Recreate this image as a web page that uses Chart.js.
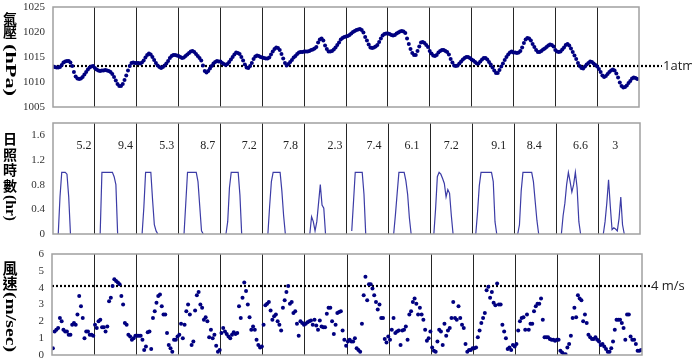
<!DOCTYPE html>
<html lang="zh-Hant">
<head>
<meta charset="UTF-8">
<title>氣壓、日照時數、風速</title>
<script src="https://cdn.jsdelivr.net/npm/chart.js"></script>
<style>
  html, body { margin: 0; padding: 0; background: #fff; }
  #wrap { position: relative; width: 692px; height: 360px; overflow: hidden; }
  .panel { position: absolute; left: 0; width: 692px; }
  #p1 { top: 0; height: 115px; }
  #p2 { top: 115px; height: 125px; }
  #p3 { top: 240px; height: 120px; }
</style>
</head>
<body>
<div id="wrap">
  <div class="panel" id="p1"><canvas id="pressureChart"></canvas></div>
  <div class="panel" id="p2"><canvas id="sunChart"></canvas></div>
  <div class="panel" id="p3"><canvas id="windChart"></canvas></div>
</div>
<script>
// hourly readings, 14 days x 24 h (one row per day)
const pressure = [
  1013.1,1013.0,1012.9,1012.9,1013.0,1013.4,1013.9,1014.1,1014.2,1014.2,1013.9,1013.2,1012.0,1011.1,1010.7,1010.6,1010.7,1011.0,1011.5,1012.0,1012.5,1012.9,1013.1,1013.2,
  1012.8,1012.5,1012.3,1012.2,1012.3,1012.3,1012.4,1012.3,1012.2,1012.0,1011.6,1011.0,1010.3,1009.6,1009.2,1009.2,1009.6,1010.4,1011.3,1012.3,1013.2,1013.8,1013.9,1013.8,
  1013.8,1013.8,1013.7,1013.9,1014.3,1014.9,1015.4,1015.7,1015.5,1015.0,1014.4,1013.8,1013.3,1013.0,1012.8,1013.0,1013.3,1013.7,1014.2,1014.8,1015.2,1015.4,1015.4,1015.3,
  1015.2,1015.0,1014.8,1014.9,1015.2,1015.5,1015.8,1016.1,1016.2,1016.0,1015.6,1015.2,1014.8,1014.3,1013.3,1012.2,1011.9,1012.2,1012.7,1013.2,1013.7,1014.0,1014.2,1014.1,
  1014.1,1013.8,1013.6,1013.4,1013.6,1014.0,1014.5,1015.0,1015.5,1015.9,1015.8,1015.6,1015.0,1014.3,1013.5,1012.9,1012.8,1013.2,1013.8,1014.6,1015.1,1015.3,1015.2,1015.0,
  1014.9,1014.8,1014.7,1014.7,1014.9,1015.5,1016.1,1016.6,1016.9,1016.8,1016.4,1015.6,1014.7,1013.8,1013.3,1013.6,1014.0,1014.4,1014.9,1015.2,1015.6,1015.9,1016.0,1016.0,
  1016.1,1016.1,1016.1,1016.2,1016.4,1016.5,1016.7,1017.0,1017.9,1018.5,1018.7,1018.3,1017.3,1016.6,1016.1,1016.1,1016.2,1016.5,1016.9,1017.4,1017.9,1018.5,1018.8,1019.0,
  1019.1,1019.2,1019.4,1019.7,1020.0,1020.2,1020.4,1020.5,1020.6,1020.4,1019.9,1019.0,1018.3,1017.5,1016.9,1016.8,1016.9,1017.1,1017.4,1018.0,1018.7,1019.3,1019.6,1019.7,
  1019.7,1019.6,1019.4,1019.3,1019.4,1019.7,1019.9,1020.1,1020.2,1020.1,1019.8,1018.7,1017.6,1016.6,1015.8,1015.4,1015.4,1016.2,1017.1,1017.9,1018.0,1017.8,1017.4,1017.0,
  1016.2,1015.7,1015.3,1015.2,1015.4,1015.9,1016.2,1016.4,1016.4,1016.2,1016.0,1015.5,1014.6,1013.9,1013.3,1013.2,1013.3,1013.7,1014.1,1014.5,1014.8,1015.0,1015.0,1014.8,
  1014.5,1014.3,1014.0,1013.7,1013.7,1014.1,1014.5,1014.8,1014.8,1014.5,1014.0,1013.5,1012.9,1012.3,1011.8,1011.8,1012.4,1013.1,1013.7,1014.4,1015.0,1015.5,1015.9,1016.1,
  1015.9,1015.9,1015.8,1015.9,1016.2,1016.9,1017.8,1018.5,1018.8,1018.7,1018.3,1017.6,1017.0,1016.4,1016.0,1016.0,1016.2,1016.5,1016.7,1017.0,1017.3,1017.5,1017.4,1017.1,
  1016.4,1016.1,1016.0,1016.1,1016.5,1016.9,1017.4,1017.6,1017.3,1016.7,1016.0,1015.3,1014.6,1013.8,1013.2,1012.8,1012.7,1013.1,1013.5,1013.8,1014.1,1014.0,1013.7,1013.4,
  1013.1,1012.6,1012.0,1011.3,1011.0,1011.2,1011.6,1012.0,1012.3,1012.5,1012.3,1011.7,1010.9,1009.9,1009.2,1008.9,1009.0,1009.3,1009.8,1010.2,1010.7,1010.9,1010.8,1010.6
];

// sunshine: first daylight hour of each day, then the hourly values from there
const sunStart = [3, 3, 3, 3, 3, 3, 3, 3, 3, 2, 2, 2, 3, 3];
const sunHours = [
  [0, 0.6, 1, 1, 1, 0.97, 0.6, 0],
  [0, 1, 1, 1, 1, 1, 1, 1, 0.93, 0.8, 0],
  [0, 0.43, 1, 1, 1, 1, 0.55, 0.15, 0.05, 0],
  [0, 0.5, 1, 1, 1, 1, 1, 1, 0.85, 0.45, 0.05, 0],
  [0, 0.2, 0.75, 1, 1, 1, 1, 1, 0.63, 0],
  [0, 0.45, 0.85, 1, 1, 1, 1, 1, 0.7, 0.3, 0],
  [0, 0.28, 0.2, 0.05, 0.2, 0.5, 0.8, 0.47, 0.42, 0],
  [0.05, 0.52, 1, 1, 1, 1, 1, 0.65, 0],
  [0, 0.31, 0.66, 1, 1, 1, 1, 0.86, 0.64, 0.26, 0],
  [0, 0.41, 0.93, 1, 0.97, 0.9, 0.82, 0.6, 0.72, 0.66, 0.3, 0],
  [0, 0.35, 0.78, 1, 1, 1, 1, 1, 1, 1, 0.85, 0.2, 0],
  [0, 0.15, 0.7, 1, 1, 1, 1, 1, 1, 0.85, 0.53, 0.22, 0],
  [0, 0.3, 0.5, 0.8, 1, 0.85, 0.68, 0.8, 1, 0.75, 0.2, 0],
  [0, 0.2, 0.5, 0.88, 0.45, 0.07, 0.1, 0.08, 0.05, 0.25, 0.6, 0.15, 0]
];
const sunTotals = [5.2, 9.4, 5.3, 8.7, 7.2, 7.8, 2.3, 7.4, 6.1, 7.2, 9.1, 8.4, 6.6, 3];

const wind = [
  0.4,1.4,1.5,1.6,2.2,2.0,1.5,1.4,1.4,1.2,1.2,1.8,1.9,1.8,2.4,3.5,2.9,2.2,1.0,1.4,1.4,1.2,1.2,1.15,
  1.8,1.6,2.0,2.1,1.65,1.65,1.4,1.7,3.2,3.4,4.1,4.5,4.4,4.3,4.2,3.5,3.0,1.9,1.8,1.2,1.1,0.9,1.0,1.15,
  1.15,1.15,1.15,0.9,0.3,0.5,1.35,1.4,0.35,2.2,2.6,3.1,3.5,3.6,2.9,2.4,2.4,1.3,0.6,0.4,0.2,0.9,0.9,1.1,
  1.2,1.85,1.0,1.8,2.6,3.0,2.4,0.6,0.8,2.65,3.55,3.75,3.0,2.8,2.1,2.25,2.0,1.05,1.5,1.0,1.2,0.55,0.2,0.3,
  1.3,1.6,1.4,1.25,1.1,1.0,1.2,1.35,1.25,1.3,2.9,2.2,3.4,4.3,3.8,3.0,2.25,1.5,1.7,1.5,0.9,0.6,0.45,0.5,
  1.8,2.95,3.05,3.15,2.65,2.1,2.3,2.4,2.0,1.8,1.45,2.8,3.25,3.75,4.1,3.05,3.15,2.5,2.6,1.85,1.15,2.0,1.9,1.8,
  1.85,1.95,2.0,2.05,1.8,2.1,1.75,1.5,2.05,1.7,1.65,1.65,2.45,2.8,2.8,2.0,1.25,1.8,2.5,2.55,2.6,1.45,0.9,0.55,
  0.8,0.9,0.8,0.8,1.0,0.4,0.3,0.2,1.85,3.55,4.65,3.25,4.2,4.2,3.95,3.55,3.15,2.7,3.0,2.2,2.2,0.95,0.75,1.1,
  0.9,1.5,2.2,1.3,1.4,1.45,0.6,1.45,1.5,1.7,0.9,2.4,2.6,3.15,3.35,3.05,2.4,2.8,2.4,2.1,1.5,0.85,1.0,1.4,
  0.45,0.25,0.2,0.8,1.5,1.4,0.6,1.85,1.15,1.45,1.6,2.2,3.15,2.2,2.1,2.9,2.2,1.8,1.6,0.65,0.2,0.3,0.3,0.4,
  0.4,0.45,1.05,1.45,1.9,2.2,2.5,3.85,4.05,3.4,3.75,3.1,2.95,4.25,3.0,3.0,1.8,1.4,1.0,0.35,0.45,0.3,0.6,0.5,
  0.65,1.45,2.0,2.2,2.25,1.5,2.4,1.5,1.85,1.85,2.6,2.9,3.05,3.05,3.35,2.1,1.05,1.05,1.05,0.95,0.9,0.9,0.85,0.9,
  0.9,0.25,0.15,0.05,0.05,0.45,0.65,1.15,2.2,2.8,2.25,3.55,3.35,3.25,2.0,2.4,1.9,1.2,1.05,0.95,0.95,1.05,0.9,0.8,
  0.6,0.65,0.5,0.35,0.2,0.2,0.4,0.8,1.5,2.1,2.1,2.1,1.9,1.6,0.9,2.4,2.4,1.1,0.9,0.9,0.65,0.25,0.25,0.3
];

const pressureTicks = [1005, 1010, 1015, 1020, 1025];
const sunTicks = [0, 0.4, 0.8, 1.2, 1.6];
const windTicks = [0, 1, 2, 3, 4, 5, 6];

const ATM = 1013.25;   // 1atm reference line
const WIND_REF = 4.1;  // 4 m/s reference line (drawn a touch above 4, as in the original)

const DAYS = 14, HRS = DAYS * 24;
const NAVY = '#000080';
const tickFont = { family: '"Liberation Serif", "Times New Roman", serif', size: 11 };

// where the daily total sits inside each day column (hours from the day line)
const sunLabelAt = [17.8, 17.5, 17.1, 16.6, 16.4, 15.9, 17.4, 15.8, 13.5, 11.9, 15.1, 11.5, 13.9, 9.9];

// ---- data points ----
const pressurePts = pressure.map((v, i) => ({ x: i, y: v }));
const windPts = wind.map((v, i) => ({ x: i + 0.5, y: v }));
const sunPts = [];
for (let i = 0; i < HRS; i++) sunPts.push({ x: i, y: null });
sunHours.forEach((vals, d) => {
  vals.forEach((v, k) => { sunPts[d * 24 + sunStart[d] + k].y = v; });
});

// ---- plugins ----
const frame = {
  id: 'frame',
  afterDraw(chart) {
    const a = chart.chartArea, ctx = chart.ctx;
    ctx.save();
    ctx.strokeStyle = '#a0a0a0';
    ctx.lineWidth = 1.5;
    ctx.strokeRect(a.left, a.top, a.right - a.left, a.bottom - a.top);
    ctx.restore();
  }
};

function sideTitle(chars, charY, latin, span, cjkSize, latinSize) {
  return {
    id: 'sideTitle',
    afterDraw(chart) {
      const ctx = chart.ctx, x = 10;
      ctx.save();
      ctx.fillStyle = '#000';
      ctx.textAlign = 'center';
      ctx.textBaseline = 'middle';
      ctx.font = 'bold ' + cjkSize + 'px "Noto Sans CJK TC"';
      chars.forEach((c, i) => ctx.fillText(c, x, charY[i]));
      ctx.font = 'bold ' + latinSize + 'px "Liberation Serif"';
      const w = ctx.measureText(latin).width;
      ctx.translate(x, (span[0] + span[1]) / 2);
      ctx.rotate(Math.PI / 2);
      ctx.scale((span[1] - span[0]) / w, 1);
      ctx.fillText(latin, 0, 0);
      ctx.restore();
    }
  };
}

function refLine(value, label, xEnd) {
  return {
    id: 'refLine',
    beforeDatasetsDraw(chart) {
      const ctx = chart.ctx, a = chart.chartArea;
      const y = Math.round(chart.scales.y.getPixelForValue(value));
      ctx.save();
      ctx.strokeStyle = '#000';
      ctx.lineWidth = 2.2;
      ctx.setLineDash([2, 2]);
      ctx.beginPath();
      ctx.moveTo(a.left, y);
      ctx.lineTo(xEnd, y);
      ctx.stroke();
      ctx.fillStyle = '#222';
      ctx.font = '13px "Open Sans", "DejaVu Sans", sans-serif';
      ctx.textBaseline = 'middle';
      ctx.fillText(label, xEnd + 1, y);
      ctx.restore();
    }
  };
}

const dayTotals = {
  id: 'dayTotals',
  afterDraw(chart) {
    const ctx = chart.ctx, xs = chart.scales.x;
    ctx.save();
    ctx.fillStyle = '#222';
    ctx.font = '12px "Liberation Serif", serif';
    ctx.textAlign = 'center';
    ctx.textBaseline = 'middle';
    sunTotals.forEach((t, d) => {
      ctx.fillText(String(t), xs.getPixelForValue(d * 24 + sunLabelAt[d]), 31);
    });
    ctx.restore();
  }
};

// ---- shared scale setup ----
function xScale() {
  return {
    type: 'linear', min: 0, max: HRS,
    ticks: { display: false, stepSize: 24 },
    grid: {
      drawTicks: false,
      lineWidth: 1,
      color: c => (c.tick && c.tick.value > 0 && c.tick.value < HRS) ? '#262626' : 'rgba(0,0,0,0)'
    },
    border: { display: false },
    afterFit(s) { s.height = 0; s.paddingLeft = 0; s.paddingRight = 0; }
  };
}
function yScale(min, max, list, width) {
  return {
    min: min, max: max,
    grid: { display: false, drawTicks: false },
    border: { display: false },
    ticks: { font: tickFont, color: '#333', padding: 8, callback: v => String(v) },
    afterBuildTicks(s) { s.ticks = list.map(v => ({ value: v })); },
    // fixed width, and no extra room for the end labels: the layout padding sets the plot box
    afterFit(s) { s.width = width; s.paddingTop = 0; s.paddingBottom = 0; }
  };
}
const common = {
  responsive: true,
  maintainAspectRatio: false,
  animation: false,
  events: [],
  plugins: { legend: { display: false }, tooltip: { enabled: false } }
};

new Chart(document.getElementById('pressureChart'), {
  type: 'scatter',
  data: { datasets: [{ data: pressurePts, pointRadius: 2, pointBackgroundColor: NAVY, pointBorderWidth: 0 }] },
  options: Object.assign({}, common, {
    layout: { padding: { top: 7, bottom: 8, left: 0, right: 53 } },
    scales: { x: xScale(), y: yScale(1005, 1025, pressureTicks, 53) }
  }),
  plugins: [frame, refLine(ATM, '1atm', 662), sideTitle(['氣', '壓'], [19, 32], '(hPa)', [44, 96], 14, 15)]
});

new Chart(document.getElementById('sunChart'), {
  type: 'line',
  data: { datasets: [{ data: sunPts, borderColor: '#3c3ca6', borderWidth: 1.2, pointRadius: 0, spanGaps: false, tension: 0 }] },
  options: Object.assign({}, common, {
    layout: { padding: { top: 8, bottom: 6, left: 0, right: 52 } },
    scales: { x: xScale(), y: yScale(0, 1.8, sunTicks, 53) }
  }),
  plugins: [frame, dayTotals, sideTitle(['日', '照', '時', '數'], [24, 40, 55, 71], '(hr)', [80, 106], 14, 15)]
});

new Chart(document.getElementById('windChart'), {
  type: 'scatter',
  data: { datasets: [{ data: windPts, pointRadius: 2, pointBackgroundColor: NAVY, pointBorderWidth: 0 }] },
  options: Object.assign({}, common, {
    layout: { padding: { top: 14, bottom: 5, left: 0, right: 50 } },
    scales: { x: xScale(), y: yScale(0, 6, windTicks, 52) }
  }),
  plugins: [frame, refLine(WIND_REF, '4 m/s', 650), sideTitle(['風', '速'], [28, 43], '(m/sec)', [52, 112], 15, 15)]
});
</script>
</body>
</html>
